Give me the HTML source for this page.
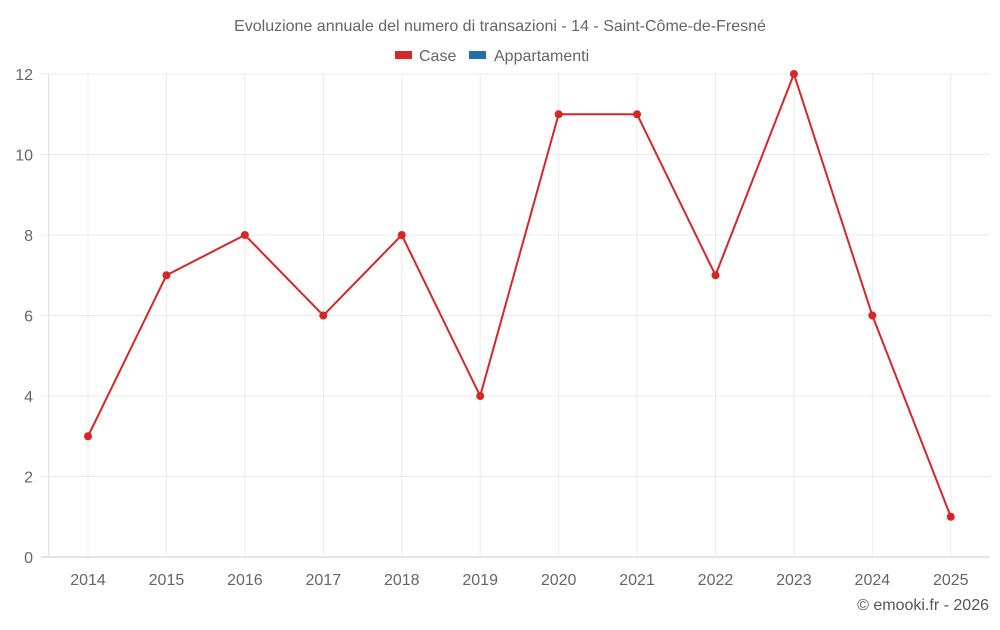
<!DOCTYPE html>
<html><head><meta charset="utf-8"><style>
body{margin:0;background:#fff;width:1000px;height:625px;overflow:hidden;font-family:"Liberation Sans",sans-serif}
</style></head><body>
<svg id="chart" width="1000" height="625" xmlns="http://www.w3.org/2000/svg" font-family="Liberation Sans, sans-serif">
<text x="500" y="31" text-anchor="middle" font-size="16" fill="#666">Evoluzione annuale del numero di transazioni - 14 - Saint-Côme-de-Fresné</text>
<g><rect x="395" y="51" width="17" height="8" fill="#d62728"/><text x="419" y="61" font-size="16" fill="#666">Case</text></g>
<g><rect x="469" y="51" width="17" height="8" fill="#1f6fa8"/><text x="494" y="61" font-size="16" fill="#666">Appartamenti</text></g>
<g id="grid"></g><g id="axes"></g><g id="series"></g>
<text x="989" y="610" text-anchor="end" font-size="16" fill="#555">© emooki.fr - 2026</text>
</svg>
<script>
const categories=["2014","2015","2016","2017","2018","2019","2020","2021","2022","2023","2024","2025"];
const caseValues=[3,7,8,6,8,4,11,11,7,12,6,1];
const yTicks=[0,2,4,6,8,10,12];
const L=48.8,R=990,T=74,B=557,yMax=12;
const bw=(R-L)/categories.length;
const x=i=>L+bw*(i+0.5);
const y=v=>B-(v/yMax)*(B-T);
const NS="http://www.w3.org/2000/svg";
function mk(tag,attrs,parent){const e=document.createElementNS(NS,tag);for(const k in attrs)e.setAttribute(k,attrs[k]);parent.appendChild(e);return e;}
const grid=document.getElementById('grid'),axes=document.getElementById('axes'),series=document.getElementById('series');
yTicks.forEach(t=>{
 const l=mk('line',{x1:L-8,x2:R,y1:y(t),y2:y(t),stroke:t===0?'#ccc':'#ebebeb'},grid);
 
 
 const tx=mk('text',{x:33,y:y(t)+6,'text-anchor':'end','font-size':16,fill:'#666'},axes);
 tx.textContent=t;
 
 
});
const border=mk('line',{x1:L,x2:L,y1:T,y2:B,stroke:'#ddd'},grid);


categories.forEach((c,i)=>{
 const l=mk('line',{x1:x(i),x2:x(i),y1:T,y2:B,stroke:'#ebebeb'},grid);
 
 
 const tx=mk('text',{x:x(i),y:585,'text-anchor':'middle','font-size':16,fill:'#666'},axes);
 tx.textContent=c;
 
 
});
const pl=mk('polyline',{points:caseValues.map((v,i)=>x(i)+','+y(v)).join(' '),fill:'none',stroke:'#d62728','stroke-width':2},series);


caseValues.forEach((v,i)=>{
 const c=mk('circle',{cx:x(i),cy:y(v),r:4,fill:'#d62728'},series);
 
 
});
</script>
</body></html>
